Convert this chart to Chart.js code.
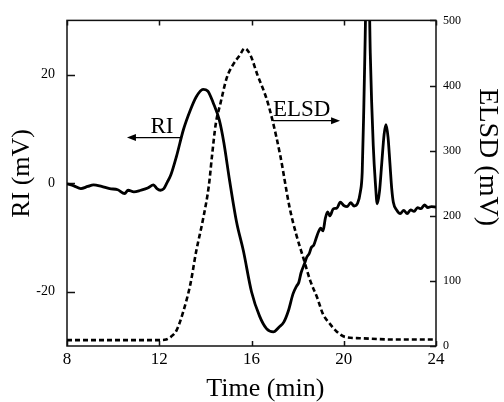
<!DOCTYPE html>
<html>
<head>
<meta charset="utf-8">
<script src="https://cdn.jsdelivr.net/npm/chart.js@4.4.1/dist/chart.umd.min.js"></script>
<style>
  html,body{margin:0;padding:0;background:#fff;}
  #wrap{width:504px;height:402px;}
</style>
</head>
<body>
<div id="wrap"><canvas id="chart" width="504" height="402"></canvas></div>
<script>
/* ===== Dados ===== */
// RI (mV), eixo esquerdo
const riTime = [
  8.0, 8.3, 8.6, 8.9, 9.15, 9.5, 9.85, 10.2, 10.5, 10.65, 10.9, 11.2, 11.5, 11.75, 11.9, 12.05,
  12.2, 12.35, 12.5, 12.75, 13.05, 13.35, 13.6, 13.9, 14.1, 14.35, 14.6, 14.8, 15.05, 15.35,
  15.65, 16.0, 16.35, 16.65, 16.95, 17.2, 17.4, 17.6, 17.8, 17.95, 18.05, 18.15, 18.3, 18.4,
  18.5, 18.6, 18.7, 18.8, 18.9, 19.0, 19.1, 19.2, 19.3, 19.4, 19.55, 19.7, 19.85, 20.0, 20.15,
  20.3, 20.45, 20.6, 20.72, 20.8, 20.87, 20.93, 21.0, 21.08, 21.15, 21.28, 21.38, 21.45, 21.55,
  21.65, 21.75, 21.83, 21.92, 22.0, 22.08, 22.15, 22.3, 22.45, 22.6, 22.75, 22.9, 23.05, 23.2,
  23.35, 23.5, 23.65, 23.8, 24.0
];
const riValue = [
  -0.1, -0.5, -1.0, -0.6, -0.3, -0.6, -1.0, -1.2, -1.9, -1.3, -1.6, -1.3, -0.9, -0.3, -1.0, -1.3,
  -1.0, 0.2, 1.5, 5.0, 9.9, 13.5, 15.9, 17.3, 17.0, 14.7, 11.7, 7.5, 0.5, -7.1,
  -12.5, -20.0, -24.5, -26.8, -27.4, -26.5, -25.6, -23.5, -20.4, -19.0, -18.3, -16.5, -14.8, -13.6,
  -13.0, -11.8, -11.4, -10.2, -9.0, -8.3, -8.8, -6.5, -5.3, -6.0, -4.7, -4.6, -3.5, -4.1, -4.3,
  -3.6, -4.2, -3.7, -1.6, 2.0, 14, 27, 42, 40, 24, 6.9, -0.5, -3.8, -1.5,
  3.8, 9.0, 10.8, 8.5, 3.8, -1.0, -3.5, -5.0, -5.6, -5.0, -5.6, -4.9, -5.2, -4.5,
  -4.7, -4.0, -4.5, -4.3, -4.4
];

// ELSD (mV), eixo direito
const elsdTime = [
  8.0, 12.0, 12.3, 12.5, 12.75, 13.05, 13.35, 13.6, 13.9, 14.15, 14.3, 14.45, 14.65, 14.93,
  15.2, 15.5, 15.7, 15.95, 16.25, 16.65, 16.9, 17.25, 17.65, 17.95, 18.25, 18.55, 18.85, 19.1,
  19.4, 19.7, 20.05, 20.7, 22.15, 24.0
];
const elsdValue = [
  9, 9, 10, 14, 24, 54, 95, 145, 195, 246, 296, 341, 372, 412,
  432, 447, 457, 447, 417, 380, 348, 292, 213, 170, 135, 100, 74, 49,
  34, 22, 14, 12, 10, 10
];

// Eixos e rótulos de ticks
const xRange    = [8, 24];     const xTicks    = [8, 12, 16, 20, 24];
const riRange   = [-30, 30];   const riTicks   = [-20, 0, 20];
const elsdRange = [0, 500];    const elsdTicks = [0, 100, 200, 300, 400, 500];

const xTitle = 'Time (min)', riTitle = 'RI (mV)', elsdTitle = 'ELSD (mV)';

const SERIF = '"Liberation Serif", "DejaVu Serif", serif';
const fixTicks = (list)=> (s)=>{ s.ticks = list.map(v=>({value:v})); };

/* ===== Moldura, ticks internos, títulos e anotações ===== */
const frameAndNotes = {
  id: 'frameAndNotes',
  beforeDatasetsDraw(chart){
    const {ctx, chartArea:a, scales:{x, y, y2}} = chart;
    ctx.save();
    ctx.strokeStyle = '#111';
    ctx.lineWidth = 1.5;
    ctx.strokeRect(a.left, a.top, a.right - a.left, a.bottom - a.top);
    ctx.beginPath();
    x.ticks.forEach(t=>{
      const px = Math.round(x.getPixelForValue(t.value)) + 0.5;
      ctx.moveTo(px, a.bottom); ctx.lineTo(px, a.bottom - 5);
      ctx.moveTo(px, a.top);    ctx.lineTo(px, a.top + 5);
    });
    y.ticks.forEach(t=>{
      const py = Math.round(y.getPixelForValue(t.value)) + 0.5;
      ctx.moveTo(a.left, py); ctx.lineTo(a.left + 8, py);
    });
    y2.ticks.forEach(t=>{
      const py = Math.round(y2.getPixelForValue(t.value)) + 0.5;
      ctx.moveTo(a.right, py); ctx.lineTo(a.right - 6, py);
    });
    ctx.stroke();

    // títulos dos eixos
    ctx.fillStyle = '#000';
    ctx.textAlign = 'center'; ctx.textBaseline = 'middle';
    ctx.font = '26px ' + SERIF;
    ctx.fillText(xTitle, x.getPixelForValue(16.6), 389);

    ctx.save();
    ctx.translate(22, y.getPixelForValue(1.8));
    ctx.rotate(-Math.PI/2);
    ctx.font = '26px ' + SERIF;
    ctx.fillText(riTitle, 0, 0);
    ctx.restore();

    ctx.save();
    ctx.translate(487, y2.getPixelForValue(290));
    ctx.rotate(Math.PI/2);
    ctx.font = '28px ' + SERIF;
    ctx.fillText(elsdTitle, 0, 0);
    ctx.restore();

    ctx.restore();
  },
  afterDatasetsDraw(chart){
    const {ctx, scales:{x, y, y2}} = chart;
    ctx.save();
    ctx.fillStyle = '#000';
    ctx.strokeStyle = '#000';
    ctx.lineWidth = 1.3;
    ctx.font = '23px ' + SERIF;

    // RI  <----
    const riY = y.getPixelForValue(8.4);
    const riX0 = x.getPixelForValue(12.9), riX1 = x.getPixelForValue(10.6);
    ctx.textAlign = 'center'; ctx.textBaseline = 'alphabetic';
    ctx.fillText('RI', x.getPixelForValue(12.12), riY - 5);
    ctx.beginPath(); ctx.moveTo(riX0, riY); ctx.lineTo(riX1 + 7, riY); ctx.stroke();
    ctx.beginPath(); ctx.moveTo(riX1, riY); ctx.lineTo(riX1 + 9, riY - 3.5); ctx.lineTo(riX1 + 9, riY + 3.5); ctx.closePath(); ctx.fill();

    // ELSD ---->
    const eY = y2.getPixelForValue(346);
    const eX0 = x.getPixelForValue(16.93), eX1 = x.getPixelForValue(19.84);
    ctx.textAlign = 'left';
    ctx.fillText('ELSD', eX0, eY - 5);
    ctx.beginPath(); ctx.moveTo(eX0, eY); ctx.lineTo(eX1 - 7, eY); ctx.stroke();
    ctx.beginPath(); ctx.moveTo(eX1, eY); ctx.lineTo(eX1 - 9, eY - 3.5); ctx.lineTo(eX1 - 9, eY + 3.5); ctx.closePath(); ctx.fill();
    ctx.restore();
  }
};

/* ===== Gráfico ===== */
const pts = (xs, ys)=> xs.map((t,i)=> ({x:t, y:ys[i]}));

new Chart(document.getElementById('chart').getContext('2d'), {
  type: 'line',
  data: {
    datasets: [
      { label:'RI', data: pts(riTime, riValue), yAxisID:'y',
        borderColor:'#000', borderWidth:2.8, pointRadius:0, fill:false,
        cubicInterpolationMode:'monotone' },
      { label:'ELSD', data: pts(elsdTime, elsdValue), yAxisID:'y2',
        borderColor:'#000', borderWidth:2.6, borderDash:[5,3], pointRadius:0, fill:false,
        cubicInterpolationMode:'monotone' }
    ]
  },
  options: {
    responsive:false, animation:false,
    layout:{ padding:{ top:15, left:0, right:0, bottom:0 } },
    plugins:{ legend:{display:false}, tooltip:{enabled:false} },
    scales:{
      x:{
        type:'linear', min:xRange[0], max:xRange[1],
        afterBuildTicks: fixTicks(xTicks),
        ticks:{ color:'#000', font:{family:SERIF, size:17}, padding:3 },
        grid:{ display:false, drawTicks:false }, border:{ display:false },
        afterFit: s=>{ s.height = 56; }
      },
      y:{
        position:'left', min:riRange[0], max:riRange[1],
        afterBuildTicks: fixTicks(riTicks),
        ticks:{ color:'#000', font:{family:SERIF, size:14}, padding:12 },
        grid:{ display:false, drawTicks:false }, border:{ display:false },
        afterFit: s=>{ s.width = 67; }
      },
      y2:{
        position:'right', min:elsdRange[0], max:elsdRange[1],
        afterBuildTicks: fixTicks(elsdTicks),
        ticks:{ color:'#000', font:{family:SERIF, size:12}, padding:7 },
        grid:{ display:false, drawTicks:false }, border:{ display:false },
        afterFit: s=>{ s.width = 68; }
      }
    }
  },
  plugins:[frameAndNotes]
});
</script>
</body>
</html>
